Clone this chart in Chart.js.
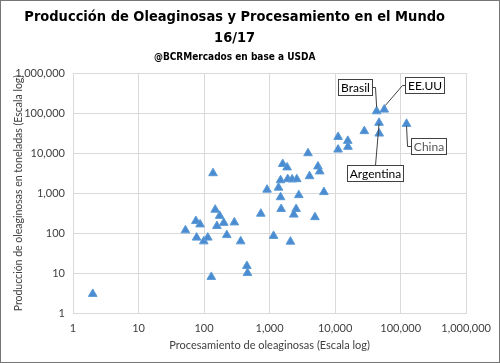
<!DOCTYPE html>
<html>
<head>
<meta charset="utf-8">
<script src="https://cdn.jsdelivr.net/npm/chart.js@4.4.1/dist/chart.umd.min.js"></script>
<style>
  html, body { margin: 0; padding: 0; background: #fff; }
  #wrap { width: 500px; height: 363px; position: relative; }
</style>
</head>
<body>
<div id="wrap"><canvas id="chart" width="500" height="363"></canvas></div>
<script>
// Procesamiento (x) y produccion (y) de oleaginosas, miles de toneladas, campaña 16/17
const processing = [
    2, 52, 75, 87, 77, 99, 114, 129, 137, 148,
    173, 157, 200, 222, 290, 362, 450, 460, 735, 915,
    1150, 1370, 1470, 1500, 1585, 1850, 1470, 1890, 2210, 2600,
    2790, 2540, 2340, 2080, 4070, 3860, 4925, 5470, 5820, 6745,
    11100, 11100, 15600, 15700, 27900, 43000, 56200, 46800, 47100, 123000
];
const production = [
    3, 117, 200, 165, 77, 62, 77, 8, 3150, 385,
    270, 150, 180, 89, 185, 62, 15, 10, 305, 1220,
    85, 1370, 790, 400, 5350, 4400, 2100, 2240, 2200, 2230,
    890, 400, 290, 61, 2650, 9950, 250, 4650, 3490, 1060,
    25400, 12300, 20300, 14400, 35500, 111500, 123000, 57400, 30900, 54000
];

// countries with a callout: name and index into the arrays above
const calloutNames = ['Brasil', 'EE.UU', 'Argentina', 'China'];
const calloutIndex = [45, 46, 47, 49];

const axisTicks = [1, 10, 100, 1000, 10000, 100000, 1000000];

// box offset from the point (dx, dy of the box top-left) and leader style
const calloutStyle = {
    'Brasil':    { dx: -38.5, dy: -32.5, side: 'right', color: '#000' },
    'EE.UU':     { dx: 20.5,  dy: -32.5, side: 'left',  color: '#000' },
    'Argentina': { dx: -32,   dy: 42.5,  side: 'top',   color: '#000' },
    'China':     { dx: 4.7,   dy: 14,    side: 'left',  color: '#595959' }
};

const uiFont = 'Lato, "Liberation Sans", sans-serif';
const titleFont = '"DejaVu Sans Condensed", "Liberation Sans Narrow", sans-serif';

const calloutPlugin = {
    id: 'callouts',
    afterDatasetsDraw(chart) {
        const ctx = chart.ctx;
        const xs = chart.scales.x;
        const ys = chart.scales.y;
        ctx.save();
        ctx.font = '12px ' + uiFont;
        ctx.textBaseline = 'middle';
        calloutNames.forEach((name, k) => {
            const i = calloutIndex[k];
            const st = calloutStyle[name];
            const px = xs.getPixelForValue(processing[i]);
            const py = ys.getPixelForValue(production[i]);
            const w = Math.round(ctx.measureText(name).width + 5);
            const h = 16;
            const bx = Math.round(px + st.dx) + 0.5;
            const by = Math.round(py + st.dy) + 0.5;

            // leader line
            ctx.strokeStyle = '#404040';
            ctx.lineWidth = 1;
            ctx.beginPath();
            if (st.side === 'right') {
                const my = by + h / 2;
                ctx.moveTo(bx + w, my);
                ctx.lineTo(bx + w + 3, my);
                ctx.lineTo(px, py - 4);
            } else if (st.side === 'left' && st.dy < 0) {
                const my = by + h / 2;
                ctx.moveTo(bx, my);
                ctx.lineTo(bx - 3, my);
                ctx.lineTo(px + 1, py - 4);
            } else if (st.side === 'left') {
                const my = by + h / 2;
                ctx.moveTo(px, py + 2);
                ctx.lineTo(px + 1, my);
                ctx.lineTo(bx, my);
            } else {
                ctx.moveTo(bx + w / 2, by);
                ctx.lineTo(px, py + 1);
            }
            ctx.stroke();

            // box
            ctx.fillStyle = '#fff';
            ctx.fillRect(bx, by, w, h);
            ctx.strokeStyle = '#404040';
            ctx.strokeRect(bx, by, w, h);
            ctx.fillStyle = st.color;
            ctx.textAlign = 'center';
            ctx.fillText(name, bx + w / 2, by + h / 2 + 0.5);
        });
        ctx.restore();
    }
};

const framePlugin = {
    id: 'frame',
    afterDraw(chart) {
        const ctx = chart.ctx;
        ctx.save();
        ctx.strokeStyle = '#767676';
        ctx.lineWidth = 1;
        ctx.strokeRect(0.5, 0.5, chart.width - 1, chart.height - 1);
        ctx.restore();
    }
};

const points = processing.map((x, i) => ({ x: x, y: production[i] }));

new Chart(document.getElementById('chart').getContext('2d'), {
    type: 'scatter',
    data: {
        datasets: [{
            label: 'Países',
            data: points,
            pointStyle: 'triangle',
            pointRadius: 5,
            pointHoverRadius: 5,
            backgroundColor: '#4a8bd2',
            borderColor: '#5b9bd5',
            borderWidth: 1
        }]
    },
    options: {
        responsive: false,
        animation: false,
        layout: { padding: { left: 0, right: 30.7, top: 0, bottom: 0 } },
        plugins: {
            legend: { display: false },
            tooltip: { enabled: false },
            title: {
                display: true,
                text: ['Producción de Oleaginosas y Procesamiento en el Mundo', '16/17'],
                color: '#000',
                font: { family: titleFont, size: 14.5, weight: 'bold', lineHeight: 1.49 },
                padding: { top: 6, bottom: 0 }
            },
            subtitle: {
                display: true,
                text: '@BCRMercados en base a USDA',
                color: '#000',
                font: { family: titleFont, size: 10, weight: 'bold', lineHeight: 1.2 },
                padding: { top: 2, bottom: 10 }
            }
        },
        scales: {
            x: {
                type: 'logarithmic',
                min: 1,
                max: 1000000,
                afterBuildTicks(scale) { scale.ticks = axisTicks.map(v => ({ value: v })); },
                afterFit(scale) { scale.height = 50; },
                ticks: {
                    color: '#404040',
                    font: { family: uiFont, size: 11 },
                    padding: 9,
                    maxRotation: 0,
                    callback: v => Number(v).toLocaleString('en-US')
                },
                grid: { color: '#d9d9d9', drawTicks: false },
                border: { color: '#d9d9d9' },
                title: {
                    display: true,
                    text: 'Procesamiento de oleaginosas (Escala log)',
                    color: '#404040',
                    font: { family: uiFont, size: 11 },
                    padding: { top: 0, bottom: 11 }
                }
            },
            y: {
                type: 'logarithmic',
                min: 1,
                max: 1000000,
                afterBuildTicks(scale) { scale.ticks = axisTicks.map(v => ({ value: v })); },
                afterFit(scale) { scale.width = 73; },
                ticks: {
                    color: '#404040',
                    font: { family: uiFont, size: 11 },
                    padding: 8,
                    callback: v => Number(v).toLocaleString('en-US')
                },
                grid: { color: '#d9d9d9', drawTicks: false },
                border: { color: '#d9d9d9' },
                title: {
                    display: true,
                    text: 'Producción de oleaginosas en toneladas (Escala log)',
                    color: '#404040',
                    font: { family: uiFont, size: 10.5 },
                    padding: { top: 12, bottom: 0 }
                }
            }
        }
    },
    plugins: [calloutPlugin, framePlugin]
});
</script>
</body>
</html>
